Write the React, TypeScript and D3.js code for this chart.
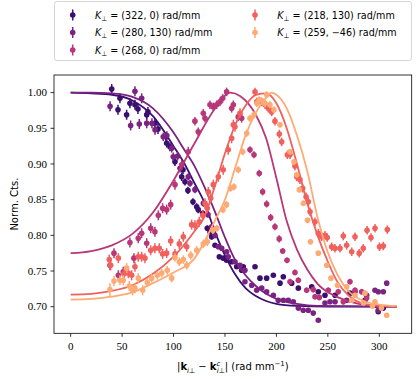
import React from 'react';
import * as d3 from 'd3';

const W = 416;
const H = 379;

const seriesLabels = ['(322, 0)', '(280, 130)', '(268, 0)', '(218, 130)', '(259, −46)'];
const seriesColors = ['#3b0f70', '#7b2382', '#b73779', '#f1605d', '#feaa74'];

const xTicks = [0, 50, 100, 150, 200, 250, 300];
const yTicks = [0.7, 0.75, 0.8, 0.85, 0.9, 0.95, 1.0];

type P = [number, number, number];

const pts322: P[] = [
  [39.9, 1.005, .007], [46, 0.976, .007], [47.9, 0.992, .007], [54.4, 0.969, .007], [57.6, 0.985, .007],
  [62.5, 0.983, .007], [65.4, 0.977, .007], [73.9, 0.969, .007], [75.1, 0.973, .007], [81.9, 0.957, .007],
  [84.9, 0.949, .007], [92.6, 0.938, .006], [93.3, 0.929, .006], [96.5, 0.924, .006], [101.4, 0.903, .006],
  [107.9, 0.882, .006], [109.2, 0.892, .006], [111.1, 0.875, .005], [114, 0.863, .005], [118.9, 0.847, .005],
  [122.5, 0.840, .005], [124, 0.836, .005], [128.3, 0.831, .004], [132.8, 0.810, .004], [135.4, 0.805, .004],
  [137, 0.798, .004], [140.3, 0.786, .003], [144.5, 0.770, .003], [148.3, 0.768, .003], [151.6, 0.765, .003],
  [156.5, 0.763, .003], [161.4, 0.756, .003], [166.2, 0.751, .002], [167.8, 0.756, .002], [179.2, 0.756, .002],
  [184, 0.740, .002], [190.5, 0.740, .002], [197, 0.744, .002], [203.5, 0.733, .002], [206.7, 0.742, .002],
  [214.8, 0.733, .002], [221.3, 0.726, .002], [234.3, 0.728, .002], [240.7, 0.721, .002], [247.2, 0.716, .002],
  [257, 0.716, .002], [271.5, 0.719, .002], [286.1, 0.709, .002], [295.8, 0.702, .002], [299, 0.693, .002],
  [303.9, 0.698, .002],
];

const pts280: P[] = [
  [38.3, 0.981, .007], [58.3, 0.954, .007], [62.5, 1.002, .007], [66.7, 0.956, .007], [69, 0.992, .007],
  [73.9, 0.957, .007], [79, 0.957, .007], [82, 0.948, .007], [90, 0.938, .006], [93.5, 0.940, .006],
  [98.2, 0.922, .006], [99.7, 0.910, .006], [104, 0.911, .006], [106.3, 0.894, .006], [114.3, 0.882, .005],
  [116, 0.873, .005], [120.8, 0.864, .005], [129, 0.845, .005], [133.5, 0.829, .004], [137, 0.812, .004],
  [140.3, 0.800, .004], [143.5, 0.784, .003], [146.8, 0.782, .003], [151.6, 0.777, .003], [153.2, 0.770, .003],
  [159.7, 0.763, .003], [164.6, 0.758, .003], [169.4, 0.751, .002], [169.4, 0.735, .002], [176, 0.730, .002],
  [180.8, 0.723, .002], [185.7, 0.726, .002], [190.5, 0.721, .002], [197, 0.716, .002], [201.8, 0.709, .002],
  [206.7, 0.709, .002], [211.5, 0.709, .002], [216.4, 0.707, .002], [221.3, 0.698, .002], [226.1, 0.695, .002],
  [231, 0.695, .002], [235.8, 0.691, .002], [240.7, 0.681, .002], [247.2, 0.705, .002], [252.1, 0.707, .002],
  [257, 0.707, .002], [268.3, 0.709, .002], [276.4, 0.721, .002], [287.7, 0.716, .002], [295.8, 0.723, .002],
  [299, 0.721, .002], [299, 0.695, .002], [303.9, 0.721, .002], [307.2, 0.733, .002],
];

const pts268: P[] = [
  [38.2, 0.758, .007], [42.1, 0.775, .007], [46.3, 0.744, .007], [51.1, 0.749, .007], [57.6, 0.790, .007],
  [61.5, 0.768, .007], [65.7, 0.796, .007], [69, 0.803, .007], [73.9, 0.789, .007], [77.8, 0.810, .007],
  [81.9, 0.805, .007], [85.2, 0.828, .007], [89.4, 0.838, .007], [93.3, 0.836, .007], [97.2, 0.843, .007],
  [101.4, 0.871, .007], [107.9, 0.899, .007], [114.3, 0.917, .007], [120.8, 0.960, .006], [124, 0.945, .006],
  [128.9, 0.971, .006], [130.6, 0.964, .006], [135.4, 0.983, .006], [138.6, 0.980, .006], [141.9, 0.983, .006],
  [145.1, 0.987, .006], [147.8, 0.992, .006], [151.6, 1.001, .006], [156.5, 0.978, .006], [158.1, 0.983, .006],
  [162.9, 0.966, .006], [166.2, 0.964, .006], [174.3, 0.920, .005], [178.2, 0.913, .005], [183.3, 0.887, .005],
  [186.6, 0.861, .005], [190.5, 0.844, .005], [194.4, 0.825, .005], [198.6, 0.812, .005], [202.7, 0.795, .005],
  [206.1, 0.778, .004], [210.3, 0.765, .004], [213.2, 0.735, .004], [218, 0.748, .004], [221.3, 0.737, .004],
  [229.4, 0.723, .004], [235.8, 0.724, .004], [237.5, 0.714, .004], [241.7, 0.713, .004], [250.4, 0.723, .004],
  [260.1, 0.721, .004], [265, 0.707, .004], [271.5, 0.735, .004], [276.4, 0.723, .004], [282.9, 0.721, .004],
  [287.7, 0.712, .004],
];

const pts218: P[] = [
  [37.5, 0.766, .007], [38.9, 0.758, .007], [46.3, 0.768, .007], [51.8, 0.746, .007], [56, 0.747, .007],
  [59.3, 0.744, .007], [62.5, 0.756, .007], [65.7, 0.770, .007], [69, 0.770, .007], [72.2, 0.768, .007],
  [77.8, 0.779, .007], [81.9, 0.782, .007], [86.1, 0.782, .007], [89.4, 0.774, .007], [93.3, 0.775, .007],
  [97.2, 0.792, .007], [101.4, 0.774, .007], [105.6, 0.788, .007], [109.5, 0.798, .007], [112.8, 0.784, .007],
  [117.6, 0.815, .007], [120.8, 0.814, .007], [125, 0.819, .007], [128.3, 0.828, .007], [130.6, 0.845, .007],
  [132.8, 0.838, .007], [133.8, 0.861, .007], [136.1, 0.852, .007], [138.6, 0.871, .007], [143.5, 0.882, .007],
  [148.3, 0.892, .007], [153.2, 0.920, .007], [156.5, 0.936, .007], [158.1, 0.955, .007], [159.7, 0.952, .007],
  [164.6, 0.971, .007], [179.2, 1.001, .006], [180.8, 0.987, .006], [185.7, 0.987, .006], [188.9, 0.983, .006],
  [192.1, 0.978, .006], [195.4, 0.973, .006], [198.6, 0.960, .006], [202.8, 0.942, .006], [205.1, 0.931, .006],
  [210.6, 0.913, .006], [213.2, 0.913, .006], [218, 0.897, .006], [219.7, 0.882, .006], [222.9, 0.878, .006],
  [225.5, 0.866, .006], [228.8, 0.854, .006], [231, 0.847, .006], [232.7, 0.833, .006], [237.5, 0.819, .006],
  [240.7, 0.803, .006], [244, 0.798, .006], [247.2, 0.800, .006], [249.4, 0.797, .006], [253.7, 0.784, .006],
  [256.9, 0.782, .006], [261.8, 0.782, .006], [265, 0.799, .006], [268.3, 0.786, .006], [273.2, 0.777, .006],
  [276.4, 0.798, .006], [280.5, 0.775, .006], [284.4, 0.782, .006], [288.1, 0.807, .006], [291.9, 0.797, .006],
  [295.8, 0.810, .006], [300.2, 0.784, .006], [303.9, 0.785, .006], [307.8, 0.808, .006],
];

const pts259: P[] = [
  [38.2, 0.724, .009], [42.1, 0.736, .007], [47.9, 0.737, .007], [51.1, 0.737, .007], [54.4, 0.754, .007],
  [57, 0.729, .007], [60.3, 0.723, .007], [62.5, 0.726, .007], [65.7, 0.740, .007], [70, 0.723, .007],
  [74.5, 0.734, .006], [78.7, 0.740, .006], [84.2, 0.744, .006], [88.5, 0.747, .006], [93.9, 0.751, .006],
  [98.2, 0.740, .006], [101.4, 0.769, .006], [105.6, 0.763, .006], [109.5, 0.766, .006], [112.8, 0.758, .006],
  [116.7, 0.772, .006], [122.5, 0.779, .006], [128.9, 0.788, .006], [132.8, 0.791, .006], [138.3, 0.807, .005],
  [142.2, 0.810, .005], [148, 0.836, .005], [151.5, 0.843, .005], [155.3, 0.866, .005], [158.7, 0.868, .005],
  [162.9, 0.892, .005], [167.2, 0.917, .005], [171.1, 0.943, .005], [174.3, 0.964, .005], [178.2, 0.969, .005],
  [181.1, 0.985, .005], [183.3, 0.990, .005], [187.2, 0.987, .005], [188.9, 0.985, .005], [190.5, 0.997, .005],
  [193.7, 0.983, .005], [197.6, 0.976, .005], [203.5, 0.955, .004], [213.2, 0.917, .004], [217.1, 0.903, .004],
  [219.7, 0.885, .004], [222.3, 0.864, .004], [226.2, 0.845, .004], [230.2, 0.821, .004], [233.1, 0.791, .004],
  [240.7, 0.775, .003], [248.9, 0.758, .003], [253, 0.740, .003], [259.4, 0.730, .003], [268.3, 0.728, .003],
  [273.2, 0.709, .003], [276.4, 0.716, .003], [284.6, 0.705, .003], [286.1, 0.719, .003], [293.4, 0.701, .003],
  [295.8, 0.707, .003], [302.1, 0.698, .003], [307.2, 0.688, .003],
];

type F = [number, number];

const fit322: F[] = [
  [0, 1.0], [20, 0.999], [40, 0.997], [60, 0.989], [80, 0.967], [100, 0.925], [110, 0.902], [120, 0.874],
  [130, 0.846], [140, 0.806], [150, 0.772], [160, 0.745], [170, 0.726], [180, 0.715], [190, 0.708],
  [200, 0.704], [220, 0.701], [250, 0.700], [317, 0.700],
];
const fit280: F[] = [
  [0, 1.0], [20, 1.0], [40, 0.999], [60, 0.994], [80, 0.978], [100, 0.944], [110, 0.921], [120, 0.898],
  [130, 0.868], [140, 0.834], [150, 0.797], [160, 0.765], [170, 0.744], [180, 0.729], [190, 0.718],
  [200, 0.711], [220, 0.704], [240, 0.701], [317, 0.700],
];
const fit268: F[] = [
  [0, 0.775], [20, 0.778], [40, 0.786], [60, 0.802], [80, 0.832], [100, 0.877], [120, 0.928], [140, 0.977],
  [155, 1.0], [165, 0.995], [180, 0.969], [190, 0.936], [200, 0.880], [210, 0.820], [220, 0.780],
  [230, 0.752], [240, 0.732], [260, 0.713], [280, 0.704], [317, 0.700],
];
const fit218: F[] = [
  [0, 0.717], [20, 0.718], [40, 0.722], [60, 0.730], [80, 0.746], [100, 0.770], [120, 0.805], [130, 0.826],
  [140, 0.868], [150, 0.915], [160, 0.955], [170, 0.982], [180, 0.997], [190, 0.999], [200, 0.985],
  [210, 0.950], [220, 0.900], [230, 0.845], [240, 0.800], [250, 0.763], [260, 0.733], [270, 0.716],
  [285, 0.704], [317, 0.700],
];
const fit259: F[] = [
  [0, 0.710], [20, 0.711], [40, 0.714], [60, 0.720], [80, 0.733], [100, 0.748], [120, 0.767], [140, 0.820],
  [150, 0.850], [160, 0.895], [170, 0.940], [180, 0.972], [190, 0.993], [195, 1.0], [200, 0.997],
  [210, 0.978], [220, 0.940], [230, 0.890], [240, 0.825], [250, 0.776], [260, 0.743], [270, 0.722],
  [285, 0.708], [300, 0.703], [317, 0.701],
];

const seriesPoints = [pts322, pts280, pts268, pts218, pts259];
const seriesFits = [fit322, fit280, fit268, fit218, fit259];

const SANS = 'DejaVu Sans, sans-serif';
const SERIF = 'Liberation Serif, Times New Roman, serif';

export default function App() {
  const x = d3.scaleLinear().domain([-16.2, 331.5]).range([54, 411.7]);
  const y = d3.scaleLinear().domain([0.6627, 1.0247]).range([333.3, 75]);
  const line = d3
    .line<F>()
    .x((d) => x(d[0]))
    .y((d) => y(d[1]))
    .curve(d3.curveMonotoneX);

  const [x0, x1] = x.range();
  const [yb, yt] = y.range();

  const legendPos = [
    [72.7, 15],
    [72.7, 32.5],
    [72.7, 50],
    [255, 15],
    [255, 32.5],
  ];

  return (
    <svg
      width={W}
      height={H}
      viewBox={`0 0 ${W} ${H}`}
      style={{ position: 'absolute', left: 0, top: 0, background: '#fff' }}
    >
      <rect x={0} y={0} width={W} height={H} fill="#fff" />
      {seriesPoints.map((pts, si) => (
        <g key={si}>
          {pts.map((p, i) => (
            <g key={i}>
              <line
                x1={x(p[0])}
                x2={x(p[0])}
                y1={y(p[1] - p[2])}
                y2={y(p[1] + p[2])}
                stroke={seriesColors[si]}
                strokeWidth={1.5}
              />
              <circle cx={x(p[0])} cy={y(p[1])} r={2.8} fill={seriesColors[si]} />
            </g>
          ))}
          <path d={line(seriesFits[si]) || ''} fill="none" stroke={seriesColors[si]} strokeWidth={1.8} />
        </g>
      ))}
      <rect x={x0} y={yt} width={x1 - x0} height={yb - yt} fill="none" stroke="#000" strokeWidth={0.8} />
      {xTicks.map((t) => (
        <g key={t}>
          <line x1={x(t)} x2={x(t)} y1={yb} y2={yb + 3.5} stroke="#000" strokeWidth={0.8} />
          <text x={x(t)} y={yb + 17} textAnchor="middle" fontFamily={SERIF} fontSize={11} fill="#000">
            {t}
          </text>
        </g>
      ))}
      {yTicks.map((t) => (
        <g key={t}>
          <line x1={x0 - 3.5} x2={x0} y1={y(t)} y2={y(t)} stroke="#000" strokeWidth={0.8} />
          <text x={x0 - 7} y={y(t) + 3.8} textAnchor="end" fontFamily={SERIF} fontSize={11} fill="#000">
            {t.toFixed(2)}
          </text>
        </g>
      ))}
      <text
        transform={`translate(17.5,${(yb + yt) / 2}) rotate(-90)`}
        textAnchor="middle"
        fontFamily={SANS}
        fontSize={10}
        fill="#000"
      >
        Norm. Cts.
      </text>
      <text x={(x0 + x1) / 2} y={370} textAnchor="middle" fontFamily={SANS} fontSize={10} fill="#000">
        <tspan>|</tspan>
        <tspan fontWeight="bold">k</tspan>
        <tspan fontSize={7} dy={2.5}>
          <tspan fontStyle="italic">i</tspan>⊥
        </tspan>
        <tspan dy={-2.5}> − </tspan>
        <tspan fontWeight="bold">k</tspan>
        <tspan fontSize={7} dy={-4} fontStyle="italic">c</tspan>
        <tspan fontSize={7} dx={-3.7} dy={6.5}>
          <tspan fontStyle="italic">i</tspan>⊥
        </tspan>
        <tspan dy={-2.5}>| (rad mm</tspan>
        <tspan fontSize={7} dy={-4}>−1</tspan>
        <tspan dy={4}>)</tspan>
      </text>
      <rect x={54.5} y={1.5} width={357} height={59} rx={2.5} fill="#fff" stroke="#d0d0d0" strokeWidth={0.9} />
      {seriesLabels.map((lab, i) => {
        const [lx, ly] = legendPos[i];
        return (
          <g key={i}>
            <line x1={lx} x2={lx} y1={ly - 5.5} y2={ly + 5.5} stroke={seriesColors[i]} strokeWidth={1.5} />
            <circle cx={lx} cy={ly} r={2.8} fill={seriesColors[i]} />
            <text x={lx + 22.3} y={ly + 3.5} fontFamily={SANS} fontSize={9.6} fill="#000">
              <tspan fontStyle="italic">K</tspan>
              <tspan fontSize={6.8} dy={2}>⊥</tspan>
              <tspan dy={-2}> = {lab} rad/mm</tspan>
            </text>
          </g>
        );
      })}
    </svg>
  );
}
